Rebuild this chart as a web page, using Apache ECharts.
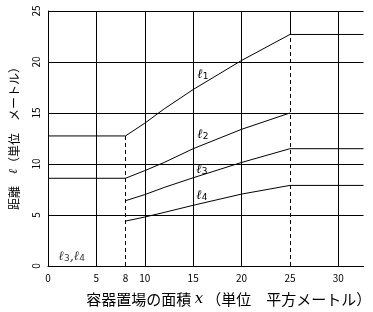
<!DOCTYPE html>
<html><head><meta charset="utf-8">
<script src="https://cdn.jsdelivr.net/npm/echarts@6/dist/echarts.min.js"></script>
<style>html,body{margin:0;padding:0;background:#fff}#c{width:373px;height:312px}</style>
</head><body><div id="c"></div>
<script>
const xTicks = [0, 5, 8, 10, 15, 20, 25, 30];
const yTicks = [0, 5, 10, 15, 20, 25];
const xMax = 32.6;
const gridX = [5, 10, 15, 20, 30];
const q1X = [0, 8, 10, 12, 15, 20, 25, 32.6];
const q1Y = [12.75, 12.75, 14.0, 15.4, 17.3, 20.15, 22.7, 22.7];
const q2X = [0, 8, 10, 12, 15, 20, 25];
const q2Y = [8.6, 8.6, 9.35, 10.15, 11.5, 13.4, 15.0];
const q3X = [8, 10, 12, 15, 20, 25, 32.6];
const q3Y = [6.4, 7.0, 7.7, 8.65, 10.15, 11.5, 11.5];
const q4X = [8, 10, 12, 15, 20, 25, 32.6];
const q4Y = [4.4, 4.8, 5.25, 5.95, 7.05, 7.9, 7.9];
const seriesNames = ['1', '2', '3', '4'];
const xName = '容器置場の面積 {i|x}（単位　平方メートル）';
const yName = '距離　{i|ℓ}（単位　メートル）';

const F = '"Noto Sans CJK JP", sans-serif';
const zip = (xs, ys) => xs.map((x, i) => [x, ys[i]]);
const blackLine = { color: '#000', width: 1 };
const ellRich = {
  l: { fontFamily: 'DejaVu Serif', fontStyle: 'italic', fontSize: 13, color: '#000' },
  s: { fontFamily: 'DejaVu Sans', fontSize: 9, color: '#000', verticalAlign: 'bottom', padding: [4, 0, 0, 0] }
};

function curve(name, xs, ys, labelAt) {
  return {
    type: 'line', name: 'ℓ' + name, data: zip(xs, ys), showSymbol: false, symbol: 'none',
    lineStyle: blackLine, silent: true, animation: false,
    markPoint: {
      symbol: 'circle', symbolSize: 0, silent: true, animation: false,
      label: { show: true, position: 'inside', formatter: '{l|ℓ}{s|' + name + '}', rich: ellRich },
      data: [{ coord: labelAt }]
    }
  };
}

const v8top = q1Y[q1X.indexOf(8)];
const v25top = q1Y[q1X.indexOf(25)];
const markData = gridX.map(x => [{ coord: [x, 0] }, { coord: [x, 25] }]);
markData.push([{ coord: [25, v25top] }, { coord: [25, 25] }]);
markData.push([{ coord: [8, 0], lineStyle: { type: [4, 3] } }, { coord: [8, v8top] }]);
markData.push([{ coord: [25, 0], lineStyle: { type: [4, 3] } }, { coord: [25, v25top] }]);

const chart = echarts.init(document.getElementById('c'));
chart.setOption({
  animation: false,
  backgroundColor: '#fff',
  grid: { left: 43, top: 11, width: 320.5, height: 262.5, containLabel: false },
  xAxis: {
    type: 'value', min: 0, max: xMax,
    name: xName, nameLocation: 'middle', nameGap: 26,
    nameTextStyle: { fontFamily: F, fontSize: 15, color: '#000', padding: [0, 0, 0, 46],
      rich: { i: { fontFamily: 'DejaVu Serif', fontStyle: 'italic', fontSize: 15, color: '#000', padding: [0, 3, 0, 0] } } },
    axisLine: { lineStyle: blackLine }, axisTick: { show: false },
    splitLine: { show: false },
    axisLabel: { customValues: xTicks, color: '#000', fontFamily: F, fontSize: 10, margin: 7 }
  },
  yAxis: {
    type: 'value', min: 0, max: 25, interval: 5,
    name: yName, nameLocation: 'middle', nameGap: 28, nameRotate: 90,
    nameTextStyle: { fontFamily: F, fontSize: 12, color: '#000', padding: [0, 0, 0, 6],
      rich: { i: { fontFamily: 'DejaVu Serif', fontStyle: 'italic', fontSize: 12, color: '#000' } } },
    axisLine: { show: true, lineStyle: blackLine }, axisTick: { show: false },
    splitLine: { show: true, lineStyle: blackLine },
    axisLabel: { customValues: yTicks, rotate: 90, color: '#000', fontFamily: F, fontSize: 10, margin: 7 }
  },
  series: [
    {
      type: 'line', data: [], silent: true, animation: false,
      markLine: { symbol: 'none', silent: true, animation: false, label: { show: false }, lineStyle: { color: '#000', width: 1, type: 'solid' }, data: markData }
    },
    curve(seriesNames[0], q1X, q1Y, [16.0, 18.8]),
    curve(seriesNames[1], q2X, q2Y, [16.0, 12.9]),
    curve(seriesNames[2], q3X, q3Y, [15.9, 9.45]),
    curve(seriesNames[3], q4X, q4Y, [15.9, 6.9]),
    {
      type: 'scatter', data: [[2.45, 0.9]], symbolSize: 0, silent: true, animation: false,
      label: { show: true, position: 'inside', formatter: '{l|ℓ}{s|3}{l|,ℓ}{s|4}', rich: ellRich }
    }
  ]
});
</script></body></html>
